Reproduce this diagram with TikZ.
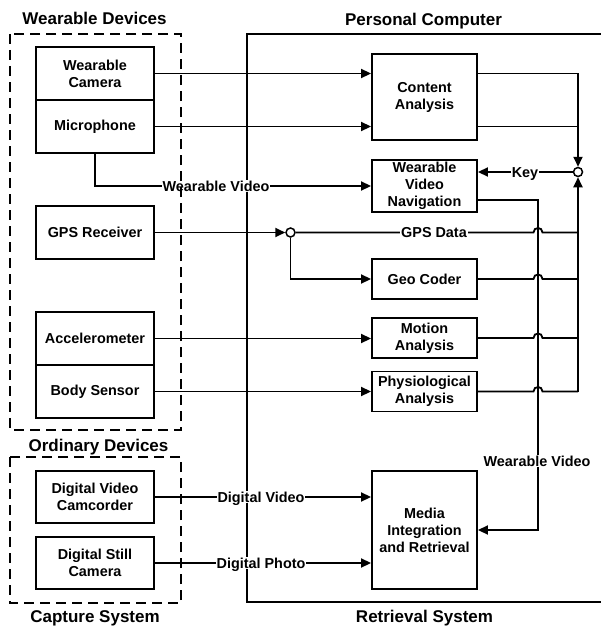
\documentclass[tikz,border=0pt]{standalone}
\usepackage{fontspec}
\setmainfont{Liberation Sans}
\usetikzlibrary{arrows.meta,calc}
\begin{document}
\begin{tikzpicture}[x=1pt,y=-1pt,
  ln/.style={line width=1.8pt},
  arr/.style={ln,-{Triangle[length=10pt,width=9pt]}},
  box/.style={draw,line width=1.9pt,inner sep=0pt,align=center,font=\bfseries\fontsize{14.4}{17}\selectfont},
  lbox/.style={box,minimum width=118pt},
  rbox/.style={box,minimum width=105pt},
  lab/.style={fill=white,inner sep=1pt,text height=10.3pt,text depth=0pt,font=\bfseries\fontsize{14.4}{17}\selectfont},
  ttl/.style={font=\bfseries\fontsize{17}{20}\selectfont,anchor=base,inner sep=0pt},
  grp/.style={line width=1.9pt,dash pattern=on 10pt off 6pt},
  jn/.style={circle,draw,fill=white,line width=1.5pt,minimum size=9pt,inner sep=0pt}]
\useasboundingbox (0,0) rectangle (600,626);

% Personal computer frame
\draw[line width=1.9pt] (602,34) -- (247,34) -- (247,602) -- (602,602);

% left devices
\node[lbox,minimum height=53pt] (wcam) at (95,73.5) {Wearable\\Camera};
\node[lbox,minimum height=53pt] (mic) at (95,126.5) {Microphone};
\node[lbox,minimum height=53pt] (gps) at (95,232.5) {GPS Receiver};
\node[lbox,minimum height=53pt] (acc) at (95,338.5) {Accelerometer};
\node[lbox,minimum height=53pt] (bod) at (95,391.5) {Body Sensor};
\node[lbox,minimum height=52pt] (dvc) at (95,497) {Digital Video\\Camcorder};
\node[lbox,minimum height=52pt] (dsc) at (95,563) {Digital Still\\Camera};

% right modules
\node[rbox,minimum height=86pt] (ca) at (424.5,97) {Content\\Analysis};
\node[rbox,minimum height=52pt] (wvn) at (424.5,186) {Wearable\\Video\\Navigation};
\node[rbox,minimum height=40pt] (geo) at (424.5,279) {Geo Coder};
\node[rbox,minimum height=40pt] (mot) at (424.5,338) {Motion\\Analysis};
\node[rbox,minimum height=40pt] (phy) at (424.5,391.5) {Physiological\\Analysis};
\node[rbox,minimum height=118pt] (mir) at (424.5,530) {Media\\Integration\\and Retrieval};

\coordinate (vl) at (538,200);

\node[jn] (c1) at (290.5,232.5) {};
\node[jn] (c2) at (578,172) {};

% connectors
\draw[arr] (wcam.east) -- (wcam.east -| ca.west);
\draw[arr] (mic.east) -- (mic.east -| ca.west);
\draw[arr] (mic.south) |- (wvn.west);
\draw[arr] (gps.east) -- (c1.west);
\draw[arr] (dvc.east) -- (dvc.east -| mir.west);
\draw[arr] (dsc.east) -- (dsc.east -| mir.west);
\draw[arr] (acc.east) -- (acc.east -| mot.west);
\draw[arr] (bod.east) -- (bod.east -| phy.west);

\draw[arr] (c1.south) |- (geo.west);
\draw[arr] (ca.east |- wcam.east) -| (c2.north);
\draw[ln] (ca.east |- mic.east) -- (mic.east -| c2);
\draw[arr] (phy.east -| c2) -- (c2.south);
\draw[arr] (c2.west) -- (c2 -| wvn.east);
\draw[arr] (wvn.east |- vl) -- (vl) |- (mir.east);
\foreach \s in {c1.east,geo.east,mot.east,phy.east}
  \draw[ln] (\s) -- ($(\s -| vl)+(-4.5,0)$) .. controls +(0,-6) and +(0,-6) .. ($(\s -| vl)+(4.5,0)$) -- (\s -| c2);

% labels on connectors
\node[lab] at (216,186) {Wearable Video};
\node[lab] at (434,232.5) {GPS Data};
\node[lab] at (525,172) {Key};
\node[lab] at (537,461) {Wearable Video};
\node[lab] at (261,497) {Digital Video};
\node[lab] at (261,563) {Digital Photo};

% group boxes
\draw[grp] (10,34) rectangle (181,430);
\draw[grp] (10,457) rectangle (181,603);

% titles
\node[ttl] at (94.5,25) {Wearable Devices};
\node[ttl] at (423.5,26) {Personal Computer};
\node[ttl] at (98.5,451) {Ordinary Devices};
\node[ttl] at (95,622) {Capture System};
\node[ttl] at (424.5,622) {Retrieval System};
\end{tikzpicture}
\end{document}
